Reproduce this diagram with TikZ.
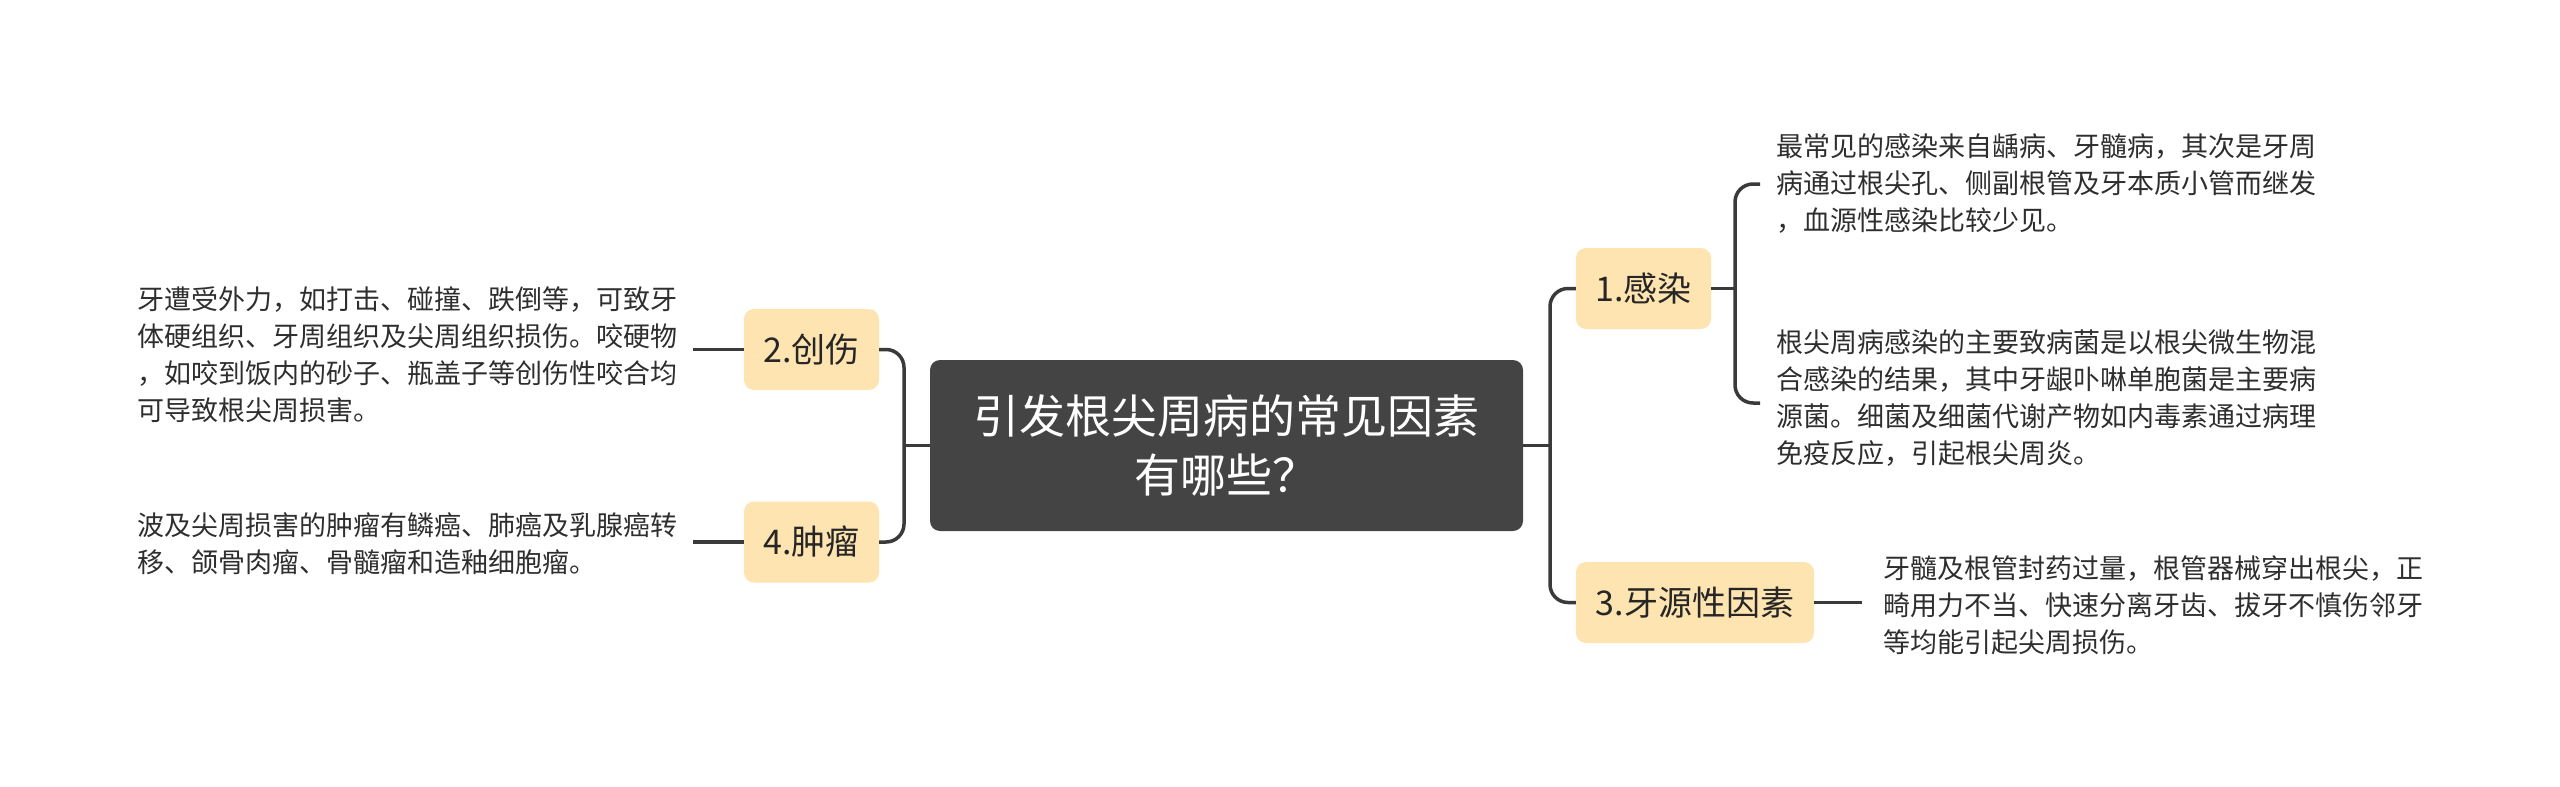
\documentclass[tikz,border=0pt]{standalone}
\usepackage{fontspec}
\setmainfont{Noto Sans CJK SC}
\definecolor{rootfill}{HTML}{444444}
\definecolor{topicfill}{HTML}{FDE4B0}
\definecolor{linecol}{HTML}{3A3A3A}
\definecolor{txtcol}{HTML}{2E2E2E}
\begin{document}
\begin{tikzpicture}[x=1pt,y=-1pt,
  rootbox/.style={fill=rootfill, rounded corners=10pt, minimum width=593pt, minimum height=171pt,
    text=white, align=center, font=\fontsize{46}{59}\selectfont, inner sep=0pt},
  topicbox/.style={fill=topicfill, rounded corners=10pt, minimum height=81pt,
    text=black!85, font=\fontsize{34}{40}\selectfont, inner sep=0pt},
  leaftext/.style={text=txtcol, align=left, font=\fontsize{27}{37}\selectfont, inner sep=0pt},
  conn/.style={draw=linecol, line width=3.5pt, rounded corners=18pt}
]
\useasboundingbox (0,0) rectangle (2560,787);

% root
\node[rootbox] (root) at (1226.5,445.5) {引发根尖周病的常见因素\\有哪些？};

% topics
\node[topicbox, minimum width=135pt] (t1) at (1643.5,288.5) {1.感染};
\node[topicbox, minimum width=238pt] (t3) at (1695,602.5) {3.牙源性因素};
\node[topicbox, minimum width=135pt] (t2) at (811.5,349.5) {2.创伤};
\node[topicbox, minimum width=135pt] (t4) at (811.5,542) {4.肿瘤};

% leaves
\node[leaftext, anchor=west] (l1a) at (1776,184) {最常见的感染来自龋病、牙髓病，其次是牙周\\病通过根尖孔、侧副根管及牙本质小管而继发\\，血源性感染比较少见。};
\node[leaftext, anchor=west] (l1b) at (1776,398) {根尖周病感染的主要致病菌是以根尖微生物混\\合感染的结果，其中牙龈卟啉单胞菌是主要病\\源菌。细菌及细菌代谢产物如内毒素通过病理\\免疫反应，引起根尖周炎。};
\node[leaftext, anchor=west] (l3) at (1883,605) {牙髓及根管封药过量，根管器械穿出根尖，正\\畸用力不当、快速分离牙齿、拔牙不慎伤邻牙\\等均能引起尖周损伤。};
\node[leaftext, anchor=east] (l2) at (678,355) {牙遭受外力，如打击、碰撞、跌倒等，可致牙\\体硬组织、牙周组织及尖周组织损伤。咬硬物\\，如咬到饭内的砂子、瓶盖子等创伤性咬合均\\可导致根尖周损害。};
\node[leaftext, anchor=east] (l4) at (678,544) {波及尖周损害的肿瘤有鳞癌、肺癌及乳腺癌转\\移、颌骨肉瘤、骨髓瘤和造釉细胞瘤。};

% junction coordinates
\coordinate (rj) at (1550,445.5);
\coordinate (lj) at (904,445.5);
\coordinate (j1) at (1735,288.5);

% root to topics
\draw[conn] (root.east) -- (rj);
\draw[conn] (t1.west) -| (rj) |- (t3.west);
\draw[conn] (root.west) -- (lj);
\draw[conn] (t2.east) -| (lj) |- (t4.east);

% topics to leaves
\draw[conn] (t1.east) -- (j1);
\draw[conn] ([xshift=-16pt]l1a.west) -| (j1) |- ([xshift=-16pt,yshift=-5pt]l1b.west);
\draw[conn] (t3.east) -- ([xshift=-21pt]l3.west |- t3.east);
\draw[conn] (t2.west) -- ([xshift=15pt]l2.east |- t2.west);
\draw[conn] (t4.west) -- ([xshift=15pt]l4.east |- t4.west);
\end{tikzpicture}
\end{document}
